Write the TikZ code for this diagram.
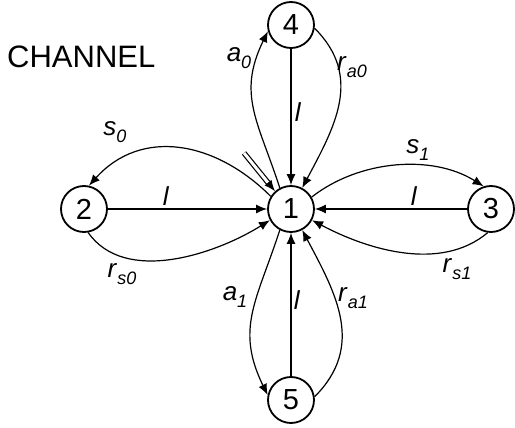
\documentclass[tikz,border=0pt]{standalone}
\usepackage{fontspec}
\setmainfont{Liberation Sans}
\usetikzlibrary{arrows.meta,calc}
\newcommand\lbl[2]{\textit{#1}\raisebox{-7pt}{\fontsize{18}{18}\selectfont\textit{#2}}}
\begin{document}
\begin{tikzpicture}[x=1pt,y=1pt,
  state/.style={circle,draw,line width=1.8pt,minimum size=46pt,inner sep=0pt,font=\fontsize{29}{29}\selectfont},
  edge/.style={line width=1.2pt,-{Latex[length=11pt,width=9pt]}},
  plain/.style={line width=1.2pt},
  lab/.style={font=\fontsize{26}{26}\selectfont,inner sep=0pt}]
\useasboundingbox (0,0) rectangle (515,-428);
\node[state] (n1) at (291,-209) {1};
\node[state] (n2) at (84,-209) {2};
\node[state] (n3) at (491,-209) {3};
\node[state] (n4) at (291,-25) {4};
\node[state] (n5) at (291,-400) {5};
\node[anchor=west,inner sep=0pt,font=\fontsize{31}{31}\selectfont] (ch) at (7,-57) {CHANNEL};
% straight
\draw[edge] (n4) -- (n1);
\draw[edge] (n2) -- (n1);
\draw[edge] (n3) -- (n1);
\draw[edge] (n5) -- (n1);
% curves
\draw[edge] (n1.118) to[out=108,in=244,looseness=1.15] (n4.195);
\draw[edge] (n4.-8) to[out=-45,in=62,looseness=1.1] (n1.62);
\draw[edge] (n1.148) to[out=135,in=48,looseness=1.1] (n2.78);
\draw[edge] (n2.-80) to[out=-55,in=-148,looseness=0.9] (n1.-152);
\draw[edge] (n1.30) to[out=38,in=148,looseness=0.9] (n3.108);
\draw[edge] (n3.-98) to[out=-140,in=-28,looseness=0.9] (n1.-28);
\draw[edge] (n1.-118) to[out=-108,in=116,looseness=1.15] (n5.168);
\draw[edge] (n5.8) to[out=45,in=-62,looseness=1.1] (n1.-62);
% double input arrow
\coordinate (ds) at (244,-153);
\coordinate (de) at ($(n1.132)!11pt!(ds)$);
\draw[plain,double,double distance=3pt] (ds) -- (de);
\draw[edge] (de) -- (n1.132);
% labels
\node[lab] (la0) at (239,-58) {\lbl{a}{0}};
\node[lab] (lra0) at (352,-67) {\lbl{r}{a0}};
\node[lab] (ll4) at (298,-112) {\textit{l}};
\node[lab] (ls0) at (115,-132) {\lbl{s}{0}};
\node[lab] (ll2) at (166,-196) {\textit{l}};
\node[lab] (lrs0) at (122,-274) {\lbl{r}{s0}};
\node[lab] (ls1) at (418,-150) {\lbl{s}{1}};
\node[lab] (ll3) at (414,-196) {\textit{l}};
\node[lab] (lrs1) at (457,-269) {\lbl{r}{s1}};
\node[lab] (ll5) at (297,-300) {\textit{l}};
\node[lab] (la1) at (235,-297) {\lbl{a}{1}};
\node[lab] (lra1) at (353,-298) {\lbl{r}{a1}};
\end{tikzpicture}
\end{document}
